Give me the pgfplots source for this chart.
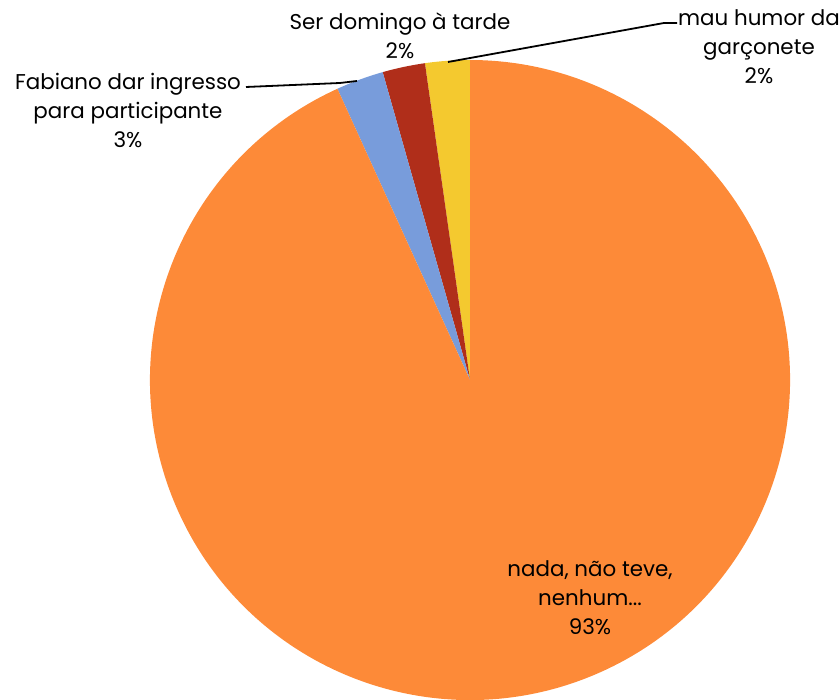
\documentclass[border=0pt]{standalone}
\usepackage{pgfplots}
\pgfplotsset{compat=1.18}
\usepackage{fontspec}
\setmainfont{Poppins}

\definecolor{cOrange}{HTML}{FD8A38}
\definecolor{cBlue}{HTML}{789CDB}
\definecolor{cRed}{HTML}{B02E1A}
\definecolor{cYellow}{HTML}{F4C92F}

% shares in percent, counterclockwise from 12 o'clock
\def\vYellow{2.25}
\def\vRed{2.15}
\def\vBlue{2.4}
\def\vOrange{93.2}

\begin{document}
\begin{tikzpicture}
\pgfmathsetmacro\aA{90+3.6*\vYellow}
\pgfmathsetmacro\aB{\aA+3.6*\vRed}
\pgfmathsetmacro\aC{\aB+3.6*\vBlue}
\pgfmathsetmacro\aD{\aC+3.6*\vOrange}
\begin{axis}[x=0.5pt, y=0.5pt, xmin=0, xmax=839, ymin=0, ymax=700,
    hide axis, scale only axis, clip=false]
\coordinate (bl) at (axis cs:0,0);
\coordinate (tr) at (axis cs:839,700);
\fill[cYellow] (axis cs:470,320) -- ++(90:160pt) arc[start angle=90, end angle=\aA, radius=160pt] -- cycle;
\fill[cRed] (axis cs:470,320) -- ++(\aA:160pt) arc[start angle=\aA, end angle=\aB, radius=160pt] -- cycle;
\fill[cBlue] (axis cs:470,320) -- ++(\aB:160pt) arc[start angle=\aB, end angle=\aC, radius=160pt] -- cycle;
\fill[cOrange] (axis cs:470,320) -- ++(\aC:160pt) arc[start angle=\aC, end angle=\aD, radius=160pt] -- cycle;

\draw[black, line width=0.9pt] (axis cs:246,613) -- (axis cs:340,617) -- (axis cs:357,619);
\draw[black, line width=0.9pt] (axis cs:448,638) -- (axis cs:664,677) -- (axis cs:677,677);

\tikzset{lbl/.style={align=center, font=\fontsize{10.7}{14.5}\selectfont, inner sep=0pt}}
\node[lbl] at (axis cs:590,102) {nada, não teve,\\nenhum...\\93\%};
\node[lbl] at (axis cs:128,590) {Fabiano dar ingresso\\para participante\\3\%};
\node[lbl] at (axis cs:400,664) {Ser domingo à tarde\\2\%};
\node[lbl] at (axis cs:759,653) {mau humor da\\garçonete\\2\%};
\end{axis}
\pgfresetboundingbox
\useasboundingbox (bl) rectangle (tr);
\end{tikzpicture}
\end{document}
